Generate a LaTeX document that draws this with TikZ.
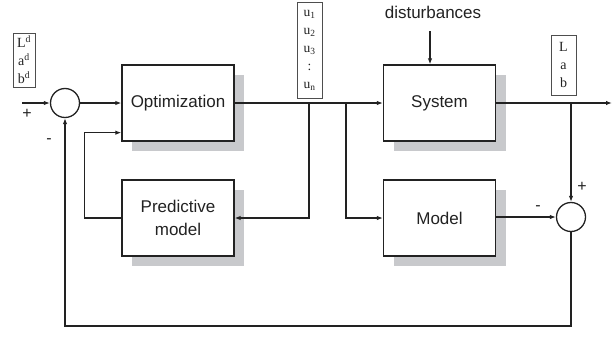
\documentclass[tikz,border=0pt]{standalone}
\usepackage{fontspec}
\setmainfont{Liberation Sans}
\newfontfamily\seriffont{Liberation Serif}
\usetikzlibrary{arrows.meta,positioning,calc}
\definecolor{ink}{HTML}{222222}
\definecolor{shade}{HTML}{C8C9CC}
\tikzset{
  blockbox/.style={draw=ink, line width=1.3pt, fill=white, minimum width=112pt,
    minimum height=76pt, inner sep=0pt, font=\fontsize{17}{23}\selectfont, align=center, text=ink},
  shadowbox/.style={fill=shade, minimum width=112pt, minimum height=76pt, inner sep=0pt},
  sumnode/.style={draw=ink, line width=1.3pt, circle, minimum size=29pt, inner sep=0pt, fill=white},
  sig/.style={draw=ink, line width=1.3pt, -{Latex[length=6pt,width=4.5pt]}},
  vecbox/.style={draw=ink!80, line width=0.8pt, inner sep=0pt, align=center,
    font=\seriffont\fontsize{14}{18}\selectfont, text=ink},
  signlabel/.style={font=\fontsize{16}{16}\selectfont, text=ink, inner sep=0pt},
}
\begin{document}
\begin{tikzpicture}[x=1pt,y=-1pt]
\useasboundingbox (0,0) rectangle (616,340);

% drop shadows of the blocks
\node[shadowbox] at (188,113) {};
\node[shadowbox] at (188,228) {};
\node[shadowbox] at (449.5,113) {};
\node[shadowbox] at (449.5,228) {};

% blocks
\node[blockbox] (opt) at (178,103) {Optimization};
\node[blockbox] (pred) at (178,218) {Predictive\\model};
\node[blockbox] (sys) at (439.5,103) {System};
\node[blockbox] (mod) at (439.5,218) {Model};

% summing junctions
\node[sumnode] (s1) at (65,103) {};
\node[sumnode] (s2) at (571,217) {};

% signal vectors
\node[vecbox, minimum width=22pt, minimum height=54pt] (ref) at (24,60)
  {L\textsuperscript{d}\\a\textsuperscript{d}\\b\textsuperscript{d}};
\node[vecbox, minimum width=25pt, minimum height=96pt,
  font=\seriffont\fontsize{13.5}{18}\selectfont] (uvec) at (309.5,50)
  {u\textsubscript{1}\\u\textsubscript{2}\\u\textsubscript{3}\\:\\u\textsubscript{n}};
\node[vecbox, minimum width=25pt, minimum height=60pt] (lab) at (563.5,65)
  {L\\a\\b};

% free ends and branch points
\coordinate (in) at (22,103);
\coordinate (out) at (612,103);
\coordinate (t1) at (309,103);
\coordinate (t2) at (346,103);
\coordinate (t3) at (571,103);
\coordinate (dtop) at (430,31);
\coordinate (fb) at (571,326);

% disturbance input
\node[font=\fontsize{17}{19}\selectfont, text=ink] (dist) at (433,12) {disturbances};
\draw[sig] (dtop) -- (dtop |- sys.north);

% forward path
\draw[sig] (in) -- (s1.west);
\draw[sig] (s1.east) -- (opt.west |- s1.east);
\draw[sig] (opt.east |- t1) -- (sys.west |- t1);
\draw[sig] (sys.east |- out) -- (out);

% branches to the models
\draw[sig] (t1) -- (t1 |- pred.east) -- (pred.east);
\draw[sig] (t2) -- (t2 |- mod.west) -- (mod.west);
\draw[sig] (pred.west) -- ++(-37,0) |- ($(opt.south west)+(0,-9)$);

% output comparison
\draw[sig] (t3) -- (s2.north);
\draw[sig] (mod.east |- s2.west) -- (s2.west);

% feedback to the reference junction
\draw[sig] (s2.south) -- (fb) -| (s1.south);

% signs
\node[signlabel] at (27,114) {+};
\node[signlabel] at (49,141) {-};
\node[signlabel] at (582,187) {+};
\node[signlabel] at (538,208) {-};
\end{tikzpicture}
\end{document}
